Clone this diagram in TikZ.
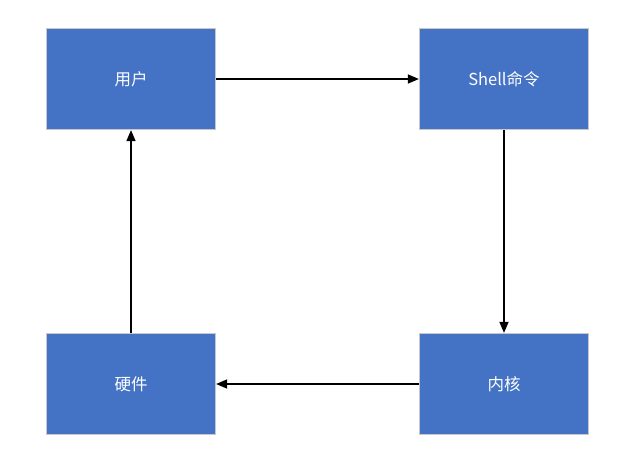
\documentclass[tikz,border=0pt]{standalone}
\usepackage{fontspec}
\setmainfont{Noto Sans CJK SC}
\usetikzlibrary{arrows.meta}
\definecolor{boxblue}{HTML}{4472C4}
\definecolor{boxedge}{HTML}{C8C8C8}
\begin{document}
\begin{tikzpicture}[x=1pt,y=-1pt,
  box/.style={draw=boxedge,line width=1.2pt,fill=boxblue,minimum width=169pt,minimum height=101pt,inner sep=0pt,text=white,font=\fontsize{16.5}{20}\selectfont},
  conn/.style={line width=1.5pt,-{Triangle[length=11pt,width=9pt]}}]
\useasboundingbox (0,0) rectangle (630,450);
\node[box] (user) at (131,79) {用户};
\node[box] (shell) at (504,79) {Shell命令};
\node[box] (kernel) at (504,384) {内核};
\node[box] (hw) at (131,384) {硬件};
\draw[conn] (user) -- (shell);
\draw[conn] (shell) -- (kernel);
\draw[conn] (kernel) -- (hw);
\draw[conn] (hw) -- (user);
\end{tikzpicture}
\end{document}
